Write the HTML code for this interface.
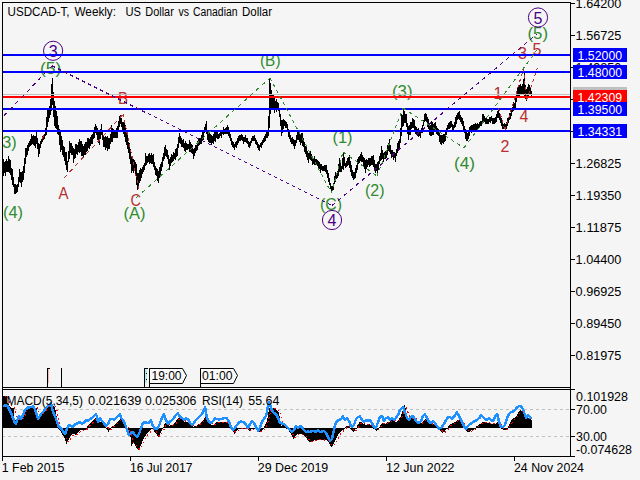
<!DOCTYPE html>
<html><head><meta charset="utf-8"><title>USDCAD-T Weekly</title>
<style>html,body{margin:0;padding:0;background:#f5f5f5;overflow:hidden}svg{display:block}text{font-family:"Liberation Sans", sans-serif;white-space:pre}</style>
</head><body>
<svg width="640" height="480" viewBox="0 0 640 480">
<rect width="640" height="480" fill="#f5f5f5"/>
<defs><clipPath id="cm"><rect x="3" y="3" width="567" height="384"/></clipPath><clipPath id="ci"><rect x="3" y="390" width="567" height="66"/></clipPath></defs>
<g clip-path="url(#cm)">
<path d="M3.5 159V176M4.5 162V173M5.5 161V176M6.5 159V172M7.5 161V172M8.5 156V172M9.5 159V173M10.5 160V175M11.5 168V180M12.5 169V185M13.5 177V187M14.5 184V194M15.5 184V194M16.5 185V193M17.5 184V192M18.5 177V187M19.5 169V182M20.5 172V183M21.5 172V187M22.5 171V182M23.5 166V180M24.5 158V173M25.5 148V164M26.5 148V157M27.5 145V155M28.5 143V151M29.5 141V147M30.5 139V146M31.5 134V145M32.5 136V144M33.5 135V145M34.5 136V146M35.5 136V148M36.5 132V144M37.5 138V149M38.5 143V157M39.5 144V154M40.5 141V148M41.5 139V144M42.5 136V142M43.5 135V140M44.5 134V139M45.5 128V136M46.5 117V135M47.5 108V127M48.5 108V122M49.5 106V118M50.5 99V115M51.5 84V111M52.5 78V105M53.5 92V117M54.5 101V126M55.5 106V128M56.5 111V129M57.5 116V134M58.5 125V135M59.5 129V145M60.5 132V152M61.5 136V150M62.5 140V155M63.5 146V157M64.5 147V161M65.5 152V165M66.5 152V170M67.5 161V172M68.5 151V162M69.5 141V159M70.5 143V153M71.5 143V155M72.5 146V155M73.5 148V163M74.5 149V159M75.5 144V158M76.5 144V154M77.5 145V155M78.5 142V152M79.5 139V153M80.5 141V152M81.5 141V156M82.5 144V156M83.5 146V158M84.5 144V155M85.5 142V155M86.5 142V152M87.5 138V151M88.5 138V148M89.5 139V149M90.5 137V146M91.5 135V144M92.5 134V144M93.5 130V139M94.5 127V138M95.5 124V133M96.5 126V135M97.5 128V140M98.5 131V143M99.5 132V145M100.5 129V139M101.5 124V135M102.5 130V140M103.5 135V147M104.5 137V147M105.5 136V150M106.5 137V148M107.5 136V151M108.5 138V149M109.5 138V149M110.5 134V144M111.5 125V142M112.5 128V142M113.5 129V138M114.5 131V138M115.5 132V138M116.5 128V138M117.5 126V138M118.5 121V130M119.5 116V127M120.5 115V124M121.5 118V127M122.5 122V130M123.5 122V134M124.5 123V137M125.5 125V142M126.5 130V145M127.5 133V149M128.5 142V153M129.5 143V159M130.5 149V164M131.5 156V173M132.5 158V171M133.5 159V173M134.5 160V171M135.5 162V175M136.5 164V185M137.5 173V190M138.5 173V186M139.5 170V183M140.5 168V181M141.5 169V178M142.5 167V174M143.5 165V172M144.5 163V170M145.5 153V166M146.5 156V165M147.5 156V163M148.5 154V162M149.5 153V164M150.5 155V163M151.5 153V164M152.5 155V164M153.5 154V167M154.5 162V170M155.5 166V175M156.5 168V176M157.5 169V181M158.5 171V183M159.5 167V178M160.5 164V175M161.5 162V171M162.5 157V167M163.5 153V161M164.5 147V159M165.5 145V156M166.5 149V157M167.5 150V159M168.5 155V164M169.5 159V170M170.5 157V166M171.5 154V163M172.5 155V162M173.5 152V161M174.5 153V159M175.5 149V160M176.5 148V157M177.5 144V156M178.5 137V148M179.5 133V143M180.5 136V144M181.5 138V147M182.5 140V147M183.5 139V148M184.5 143V151M185.5 141V152M186.5 143V150M187.5 144V150M188.5 144V149M189.5 140V152M190.5 142V152M191.5 144V153M192.5 145V154M193.5 149V159M194.5 148V156M195.5 145V153M196.5 145V151M197.5 141V150M198.5 139V146M199.5 138V145M200.5 138V144M201.5 135V144M202.5 132V141M203.5 132V140M204.5 127V133M205.5 124V131M206.5 121V134M207.5 130V140M208.5 133V142M209.5 133V143M210.5 134V143M211.5 135V145M212.5 136V143M213.5 134V144M214.5 132V141M215.5 130V142M216.5 131V138M217.5 132V139M218.5 134V139M219.5 133V138M220.5 132V136M221.5 132V138M222.5 130V134M223.5 127V135M224.5 129V134M225.5 128V134M226.5 127V134M227.5 125V134M228.5 127V136M229.5 131V138M230.5 134V141M231.5 138V145M232.5 141V147M233.5 142V148M234.5 144V150M235.5 142V147M236.5 141V148M237.5 138V145M238.5 136V143M239.5 135V141M240.5 135V141M241.5 134V140M242.5 135V141M243.5 137V144M244.5 137V142M245.5 135V142M246.5 138V143M247.5 138V144M248.5 141V147M249.5 142V148M250.5 141V146M251.5 138V143M252.5 136V141M253.5 136V141M254.5 135V141M255.5 138V144M256.5 140V145M257.5 142V148M258.5 144V150M259.5 145V151M260.5 143V147M261.5 142V148M262.5 140V145M263.5 138V143M264.5 136V142M265.5 134V141M266.5 132V138M267.5 131V138M268.5 116V136M269.5 78V128M270.5 83V114M271.5 90V110M272.5 94V109M273.5 95V110M274.5 98V113M275.5 101V110M276.5 99V112M277.5 102V110M278.5 103V111M279.5 109V117M280.5 114V126M281.5 120V136M282.5 120V133M283.5 119V129M284.5 120V126M285.5 121V128M286.5 122V128M287.5 124V131M288.5 129V137M289.5 132V139M290.5 135V142M291.5 138V144M292.5 137V144M293.5 139V146M294.5 140V149M295.5 140V146M296.5 135V143M297.5 132V140M298.5 131V140M299.5 134V142M300.5 134V145M301.5 133V143M302.5 133V146M303.5 138V147M304.5 142V152M305.5 146V154M306.5 147V157M307.5 151V160M308.5 153V163M309.5 152V159M310.5 151V160M311.5 154V161M312.5 156V165M313.5 158V164M314.5 156V165M315.5 159V165M316.5 159V165M317.5 160V166M318.5 161V170M319.5 162V169M320.5 164V173M321.5 164V170M322.5 166V171M323.5 166V171M324.5 165V171M325.5 165V172M326.5 165V174M327.5 170V178M328.5 173V182M329.5 178V185M330.5 183V189M331.5 186V192M332.5 186V191M333.5 183V190M334.5 176V184M335.5 172V182M336.5 173V179M337.5 171V178M338.5 164V176M339.5 158V172M340.5 162V172M341.5 166V172M342.5 158V169M343.5 153V170M344.5 157V166M345.5 163V168M346.5 161V167M347.5 158V166M348.5 157V165M349.5 155V168M350.5 161V172M351.5 165V176M352.5 170V178M353.5 172V180M354.5 172V179M355.5 168V178M356.5 165V173M357.5 159V170M358.5 157V164M359.5 156V163M360.5 154V161M361.5 152V162M362.5 155V162M363.5 157V167M364.5 158V169M365.5 160V173M366.5 159V169M367.5 160V167M368.5 158V165M369.5 158V167M370.5 158V166M371.5 156V165M372.5 156V165M373.5 155V167M374.5 160V169M375.5 164V173M376.5 164V171M377.5 162V175M378.5 161V170M379.5 156V164M380.5 153V161M381.5 146V160M382.5 150V159M383.5 153V162M384.5 152V159M385.5 151V159M386.5 150V158M387.5 145V155M388.5 143V151M389.5 139V152M390.5 145V154M391.5 150V158M392.5 150V157M393.5 152V160M394.5 152V158M395.5 153V162M396.5 149V156M397.5 143V153M398.5 141V151M399.5 139V149M400.5 128V143M401.5 114V136M402.5 115V127M403.5 109V126M404.5 111V123M405.5 114V123M406.5 114V127M407.5 123V134M408.5 126V140M409.5 125V135M410.5 122V135M411.5 122V129M412.5 118V128M413.5 119V128M414.5 120V130M415.5 126V134M416.5 127V135M417.5 129V136M418.5 128V137M419.5 130V136M420.5 131V138M421.5 128V133M422.5 125V133M423.5 120V126M424.5 114V122M425.5 113V121M426.5 114V122M427.5 117V127M428.5 119V129M429.5 123V135M430.5 125V136M431.5 121V136M432.5 122V135M433.5 124V135M434.5 123V131M435.5 122V132M436.5 126V134M437.5 128V135M438.5 129V136M439.5 132V142M440.5 135V144M441.5 135V145M442.5 135V143M443.5 134V144M444.5 134V142M445.5 131V141M446.5 128V135M447.5 125V130M448.5 123V129M449.5 122V129M450.5 121V128M451.5 121V127M452.5 124V130M453.5 125V132M454.5 122V128M455.5 117V127M456.5 115V124M457.5 113V120M458.5 112V119M459.5 111V120M460.5 115V122M461.5 117V124M462.5 118V126M463.5 121V130M464.5 126V133M465.5 129V139M466.5 132V141M467.5 133V141M468.5 132V139M469.5 127V136M470.5 126V132M471.5 125V133M472.5 125V131M473.5 124V131M474.5 124V130M475.5 123V130M476.5 124V130M477.5 123V129M478.5 124V129M479.5 122V128M480.5 121V126M481.5 121V126M482.5 114V122M483.5 114V122M484.5 116V122M485.5 118V124M486.5 118V124M487.5 119V124M488.5 119V124M489.5 117V122M490.5 117V123M491.5 116V121M492.5 118V124M493.5 118V124M494.5 118V124M495.5 117V123M496.5 114V122M497.5 111V118M498.5 110V118M499.5 113V120M500.5 117V123M501.5 118V126M502.5 122V129M503.5 124V129M504.5 123V129M505.5 124V129M506.5 122V129M507.5 118V126M508.5 117V123M509.5 113V120M510.5 113V119M511.5 110V116M512.5 107V112M513.5 102V111M514.5 103V110M515.5 98V108M516.5 92V102M517.5 88V98M518.5 86V96M519.5 85V96M520.5 84V95M521.5 86V94M522.5 84V95M523.5 79V95M524.5 73V96M525.5 85V99M526.5 89V101M527.5 87V97M528.5 84V96M529.5 85V95M530.5 88V94M531.5 91V96" stroke="#000" stroke-width="1" shape-rendering="crispEdges" fill="none"/>
<text x="-3.2" y="147.8" font-size="16" fill="#2e8b2e" textLength="19.8" lengthAdjust="spacingAndGlyphs">(3)</text>
<text x="3" y="217.5" font-size="16" fill="#2e8b2e" textLength="20" lengthAdjust="spacingAndGlyphs">(4)</text>
<text x="40" y="73.5" font-size="16" fill="#2e8b2e" textLength="21.2" lengthAdjust="spacingAndGlyphs">(5)</text>
<text x="58.5" y="199" font-size="16" fill="#b5302f" textLength="10" lengthAdjust="spacingAndGlyphs">A</text>
<text x="118" y="104" font-size="16" fill="#b5302f" textLength="10" lengthAdjust="spacingAndGlyphs">B</text>
<text x="130.5" y="205.5" font-size="16" fill="#b5302f" textLength="10.5" lengthAdjust="spacingAndGlyphs">C</text>
<text x="123.5" y="219" font-size="16" fill="#2e8b2e" textLength="22" lengthAdjust="spacingAndGlyphs">(A)</text>
<text x="260" y="65.5" font-size="16" fill="#2e8b2e" textLength="20.5" lengthAdjust="spacingAndGlyphs">(B)</text>
<text x="332.5" y="143" font-size="16" fill="#2e8b2e" textLength="20" lengthAdjust="spacingAndGlyphs">(1)</text>
<text x="320" y="210" font-size="16" fill="#2e8b2e" textLength="22" lengthAdjust="spacingAndGlyphs">(C)</text>
<text x="365" y="196" font-size="16" fill="#2e8b2e" textLength="19.5" lengthAdjust="spacingAndGlyphs">(2)</text>
<text x="392" y="97" font-size="16" fill="#2e8b2e" textLength="20.5" lengthAdjust="spacingAndGlyphs">(3)</text>
<text x="454" y="169" font-size="16" fill="#2e8b2e" textLength="21" lengthAdjust="spacingAndGlyphs">(4)</text>
<text x="493.5" y="99" font-size="16" fill="#b5302f">1</text>
<text x="500.5" y="152" font-size="16" fill="#b5302f">2</text>
<text x="518" y="59" font-size="16" fill="#b5302f">3</text>
<text x="519.5" y="121.5" font-size="16" fill="#b5302f">4</text>
<text x="532.5" y="55" font-size="16" fill="#b5302f">5</text>
<text x="527.5" y="39" font-size="16" fill="#2e8b2e" textLength="20.5" lengthAdjust="spacingAndGlyphs">(5)</text>
<circle cx="53.1" cy="50.8" r="9.6" fill="none" stroke="#4b0082" stroke-width="1"/><text x="53.1" y="56.8" font-size="16" fill="#4b0082" text-anchor="middle">3</text>
<circle cx="332" cy="220" r="9.6" fill="none" stroke="#4b0082" stroke-width="1"/><text x="332" y="226" font-size="16" fill="#4b0082" text-anchor="middle">4</text>
<circle cx="538" cy="17.5" r="9.6" fill="none" stroke="#4b0082" stroke-width="1"/><text x="538" y="23.5" font-size="16" fill="#4b0082" text-anchor="middle">5</text>
<g shape-rendering="crispEdges">
<rect x="3" y="94" width="567" height="1" fill="#c0c0c0"/>
<rect x="3" y="54" width="567" height="2" fill="#0000ff"/>
<rect x="3" y="71" width="567" height="2" fill="#0000ff"/>
<rect x="3" y="108" width="567" height="2" fill="#0000ff"/>
<rect x="3" y="130" width="567" height="2" fill="#0000ff"/>
<rect x="3" y="96" width="567" height="2" fill="#ff0000"/>
</g>
<line x1="-2" y1="122" x2="52" y2="65.8" stroke="#4b0082" stroke-width="1" stroke-dasharray="4.30 4.02" shape-rendering="crispEdges"/><line x1="52" y1="65.8" x2="332" y2="205.5" stroke="#4b0082" stroke-width="1" stroke-dasharray="3.46 3.24" shape-rendering="crispEdges"/><line x1="332" y1="205.5" x2="537" y2="34" stroke="#4b0082" stroke-width="1" stroke-dasharray="4.04 3.78" shape-rendering="crispEdges"/>
<line x1="64" y1="178" x2="123.2" y2="114.3" stroke="#b5302f" stroke-width="1" stroke-dasharray="4.23 3.96" shape-rendering="crispEdges"/><line x1="123.2" y1="114.3" x2="139" y2="190" stroke="#b5302f" stroke-width="1" stroke-dasharray="3.17 2.96" shape-rendering="crispEdges"/>
<line x1="136" y1="198" x2="270" y2="78" stroke="#2e8b2e" stroke-width="1" stroke-dasharray="4.16 3.89" shape-rendering="crispEdges"/><line x1="270" y1="78" x2="331.5" y2="193" stroke="#2e8b2e" stroke-width="1" stroke-dasharray="3.52 3.29" shape-rendering="crispEdges"/><line x1="331.5" y1="193" x2="343" y2="152" stroke="#2e8b2e" stroke-width="1" stroke-dasharray="3.22 3.01" shape-rendering="crispEdges"/><line x1="343" y1="152" x2="377" y2="176" stroke="#2e8b2e" stroke-width="1" stroke-dasharray="3.79 3.55" shape-rendering="crispEdges"/><line x1="377" y1="176" x2="403" y2="108" stroke="#2e8b2e" stroke-width="1" stroke-dasharray="3.32 3.10" shape-rendering="crispEdges"/><line x1="403" y1="108" x2="464" y2="148" stroke="#2e8b2e" stroke-width="1" stroke-dasharray="3.71 3.47" shape-rendering="crispEdges"/><line x1="464" y1="148" x2="537" y2="50" stroke="#2e8b2e" stroke-width="1" stroke-dasharray="3.87 3.62" shape-rendering="crispEdges"/>
<line x1="498.5" y1="108" x2="505" y2="130" stroke="#b5302f" stroke-width="1" stroke-dasharray="3.23 3.02" shape-rendering="crispEdges"/><line x1="505" y1="130" x2="523.5" y2="69" stroke="#b5302f" stroke-width="1" stroke-dasharray="3.24 3.03" shape-rendering="crispEdges"/><line x1="523.5" y1="69" x2="526.5" y2="100" stroke="#b5302f" stroke-width="1" stroke-dasharray="3.11 2.91" shape-rendering="crispEdges"/><line x1="526.5" y1="100" x2="537.5" y2="68" stroke="#b5302f" stroke-width="1" stroke-dasharray="3.28 3.07" shape-rendering="crispEdges"/>
<path d="M42.5 137V139M43.5 135V137" stroke="#ff0000" stroke-width="1" shape-rendering="crispEdges"/>
<text x="7.5" y="15.5" font-size="12" fill="#000" textLength="62" lengthAdjust="spacingAndGlyphs">USDCAD-T,</text>
<text x="74.5" y="15.5" font-size="12" fill="#000" textLength="41.5" lengthAdjust="spacingAndGlyphs">Weekly:</text>
<text x="125.5" y="15.5" font-size="12" fill="#000" textLength="15.5" lengthAdjust="spacingAndGlyphs">US</text>
<text x="145.3" y="15.5" font-size="12" fill="#000" textLength="28.5" lengthAdjust="spacingAndGlyphs">Dollar</text>
<text x="178.5" y="15.5" font-size="12" fill="#000" textLength="10.5" lengthAdjust="spacingAndGlyphs">vs</text>
<text x="193" y="15.5" font-size="12" fill="#000" textLength="44.5" lengthAdjust="spacingAndGlyphs">Canadian</text>
<text x="242" y="15.5" font-size="12" fill="#000" textLength="30" lengthAdjust="spacingAndGlyphs">Dollar</text>
<g shape-rendering="crispEdges">
<rect x="47" y="368" width="1" height="19" fill="#000"/><rect x="48" y="369" width="1" height="14" fill="#ffb0b8"/><rect x="47" y="368" width="3" height="1" fill="#000"/>
<rect x="61" y="368" width="1" height="19" fill="#000"/>
<rect x="144" y="368" width="1" height="19" fill="#000"/><rect x="144" y="368" width="4" height="1" fill="#000"/><rect x="145" y="369" width="2" height="14" fill="#aeeeee"/><rect x="146" y="373" width="1" height="1" fill="#000"/><rect x="146" y="379" width="1" height="1" fill="#000"/>
<rect x="149" y="368" width="1" height="19" fill="#000"/>
<rect x="200" y="368" width="1" height="19" fill="#000"/>
</g>
<path d="M149.5 368.5H182.5L186.5 375.5L182.5 383.5H149.5Z" fill="#fafafa" stroke="#000" stroke-width="1"/>
<path d="M200.5 368.5H233.5L237.5 375.5L233.5 383.5H200.5Z" fill="#fafafa" stroke="#000" stroke-width="1"/>
<text x="151.5" y="380.3" font-size="12" fill="#000" textLength="30" lengthAdjust="spacingAndGlyphs">19:00</text>
<text x="202" y="380.3" font-size="12" fill="#000" textLength="30.5" lengthAdjust="spacingAndGlyphs">01:00</text>
</g>
<g clip-path="url(#ci)">
<g shape-rendering="crispEdges">
<line x1="3" y1="409.5" x2="570" y2="409.5" stroke="#c0c0c0" stroke-width="1" stroke-dasharray="3 3" stroke-dashoffset="1"/>
<line x1="3" y1="436.5" x2="570" y2="436.5" stroke="#c0c0c0" stroke-width="1" stroke-dasharray="3 3" stroke-dashoffset="1"/>
<path d="M3.5 396V428M4.5 396V428M5.5 396V428M6.5 396V428M7.5 403V428M8.5 404V428M9.5 406V428M10.5 407V428M11.5 408V428M12.5 408V428M13.5 408V428M14.5 418V428M15.5 420V428M16.5 420V428M17.5 420V428M18.5 419V428M19.5 418V428M20.5 419V428M21.5 419V428M22.5 418V428M23.5 416V428M24.5 413V428M25.5 410V428M26.5 408V428M27.5 408V428M28.5 407V428M29.5 407V428M30.5 407V428M31.5 407V428M32.5 407V428M33.5 407V428M34.5 407V428M35.5 408V428M36.5 408V428M37.5 413V428M38.5 416V428M39.5 416V428M40.5 416V428M41.5 415V428M42.5 413V428M43.5 412V428M44.5 410V428M45.5 408V428M46.5 407V428M47.5 406V428M48.5 405V428M49.5 404V428M50.5 404V428M51.5 404V428M52.5 405V428M53.5 406V428M54.5 407V428M55.5 410V428M56.5 416V428M57.5 424V428M58.5 427.5V428.5M59.5 428V430M60.5 428V431M61.5 428V433M62.5 428V435M63.5 428V436M64.5 428V438M65.5 428V441M66.5 428V444M67.5 428V442M68.5 428V440M69.5 428V438M70.5 428V436M71.5 428V435M72.5 428V434M73.5 428V434M74.5 428V434M75.5 428V435M76.5 428V434M77.5 428V433M78.5 428V432M79.5 428V431M80.5 428V430M81.5 428V430M82.5 428V430M83.5 428V430M84.5 428V430M85.5 428V430M86.5 427.5V428.5M87.5 426V428M88.5 425V428M89.5 424V428M90.5 423V428M91.5 422V428M92.5 421V428M93.5 420V428M94.5 419V428M95.5 418V428M96.5 419V428M97.5 420V428M98.5 421V428M99.5 422V428M100.5 422V428M101.5 422V428M102.5 423V428M103.5 424V428M104.5 425V428M105.5 426V428M106.5 427.5V428.5M107.5 428V430M108.5 428V432M109.5 428V430M110.5 427.5V428.5M111.5 427V428M112.5 426V428M113.5 426V428M114.5 425V428M115.5 424V428M116.5 423V428M117.5 422V428M118.5 421V428M119.5 420V428M120.5 418V428M121.5 420V428M122.5 421V428M123.5 422V428M124.5 424V428M125.5 426V428M126.5 427.5V428.5M127.5 428V430M128.5 428V431M129.5 428V434M130.5 428V437M131.5 428V446M132.5 428V444M133.5 428V443M134.5 428V444M135.5 428V446M136.5 428V448M137.5 428V449M138.5 428V450M139.5 428V448M140.5 428V446M141.5 428V444M142.5 428V441M143.5 428V439M144.5 428V437M145.5 428V436M146.5 428V434M147.5 428V433M148.5 428V432M149.5 428V431M150.5 428V430M151.5 427.5V428.5M152.5 428V429M153.5 428V430M154.5 428V432M155.5 428V433M156.5 428V434M157.5 428V436M158.5 428V437M159.5 428V435M160.5 428V433M161.5 428V431M162.5 428V429M163.5 427V428M164.5 424V428M165.5 423V428M166.5 424V428M167.5 424V428M168.5 425V428M169.5 426V428M170.5 425V428M171.5 425V428M172.5 425V428M173.5 424V428M174.5 423V428M175.5 422V428M176.5 420V428M177.5 419V428M178.5 418V428M179.5 418V428M180.5 418V428M181.5 419V428M182.5 420V428M183.5 421V428M184.5 422V428M185.5 422V428M186.5 422V428M187.5 422V428M188.5 423V428M189.5 424V428M190.5 425V428M191.5 426V428M192.5 426V428M193.5 427V428M194.5 426V428M195.5 426V428M196.5 426V428M197.5 425V428M198.5 424V428M199.5 424V428M200.5 423V428M201.5 422V428M202.5 421V428M203.5 420V428M204.5 418V428M205.5 416V428M206.5 418V428M207.5 420V428M208.5 422V428M209.5 423V428M210.5 424V428M211.5 425V428M212.5 425V428M213.5 425V428M214.5 424V428M215.5 423V428M216.5 422V428M217.5 422V428M218.5 422V428M219.5 422V428M220.5 422V428M221.5 422V428M222.5 422V428M223.5 422V428M224.5 422V428M225.5 422V428M226.5 422V428M227.5 423V428M228.5 424V428M229.5 425V428M230.5 427.5V428.5M231.5 428V429M232.5 428V430M233.5 428V432M234.5 428V434M235.5 428V432M236.5 428V431M237.5 428V430M238.5 428V429M239.5 427.5V428.5M240.5 427.5V428.5M241.5 427.5V428.5M242.5 427.5V428.5M243.5 427.5V428.5M244.5 427.5V428.5M245.5 427.5V428.5M246.5 428V429M247.5 428V429M248.5 428V430M249.5 428V431M250.5 428V430M251.5 428V429M252.5 428V429M253.5 427.5V428.5M254.5 427.5V428.5M255.5 427.5V428.5M256.5 428V429M257.5 428V430M258.5 428V431M259.5 428V432M260.5 428V432M261.5 428V431M262.5 428V430M263.5 427.5V428.5M264.5 426V428M265.5 424V428M266.5 422V428M267.5 418V428M268.5 412V428M269.5 408V428M270.5 408V428M271.5 408V428M272.5 409V428M273.5 408V428M274.5 408V428M275.5 408V428M276.5 410V428M277.5 411V428M278.5 412V428M279.5 416V428M280.5 424V428M281.5 426V428M282.5 425V428M283.5 425V428M284.5 426V428M285.5 426V428M286.5 427.5V428.5M287.5 427.5V428.5M288.5 428V430M289.5 428V432M290.5 428V433M291.5 428V435M292.5 428V437M293.5 428V439M294.5 428V438M295.5 428V436M296.5 428V435M297.5 428V434M298.5 428V434M299.5 428V434M300.5 428V434M301.5 428V434M302.5 428V435M303.5 428V435M304.5 428V436M305.5 428V437M306.5 428V438M307.5 428V440M308.5 428V441M309.5 428V442M310.5 428V442M311.5 428V442M312.5 428V442M313.5 428V441M314.5 428V440M315.5 428V440M316.5 428V440M317.5 428V440M318.5 428V440M319.5 428V440M320.5 428V440M321.5 428V440M322.5 428V440M323.5 428V440M324.5 428V440M325.5 428V440M326.5 428V440M327.5 428V441M328.5 428V442M329.5 428V444M330.5 428V446M331.5 428V447M332.5 428V446M333.5 428V444M334.5 428V442M335.5 428V440M336.5 428V438M337.5 428V436M338.5 428V434M339.5 428V433M340.5 428V432M341.5 428V431M342.5 428V430M343.5 428V430M344.5 427.5V428.5M345.5 427V428M346.5 426V428M347.5 426V428M348.5 426V428M349.5 427V428M350.5 427.5V428.5M351.5 428V430M352.5 428V431M353.5 428V432M354.5 428V431M355.5 428V429M356.5 427.5V428.5M357.5 425V428M358.5 424V428M359.5 422V428M360.5 422V428M361.5 422V428M362.5 423V428M363.5 424V428M364.5 424V428M365.5 425V428M366.5 425V428M367.5 425V428M368.5 425V428M369.5 424V428M370.5 425V428M371.5 426V428M372.5 427V428M373.5 427.5V428.5M374.5 428V429M375.5 428V430M376.5 428V431M377.5 428V430M378.5 427.5V428.5M379.5 427V428M380.5 425V428M381.5 424V428M382.5 423V428M383.5 424V428M384.5 424V428M385.5 424V428M386.5 423V428M387.5 422V428M388.5 422V428M389.5 422V428M390.5 421V428M391.5 420V428M392.5 420V428M393.5 420V428M394.5 421V428M395.5 422V428M396.5 422V428M397.5 421V428M398.5 420V428M399.5 418V428M400.5 417V428M401.5 414V428M402.5 411V428M403.5 406V428M404.5 405V428M405.5 408V428M406.5 414V428M407.5 416V428M408.5 418V428M409.5 418V428M410.5 419V428M411.5 418V428M412.5 418V428M413.5 416V428M414.5 418V428M415.5 419V428M416.5 420V428M417.5 422V428M418.5 423V428M419.5 424V428M420.5 423V428M421.5 423V428M422.5 422V428M423.5 421V428M424.5 420V428M425.5 419V428M426.5 420V428M427.5 421V428M428.5 422V428M429.5 424V428M430.5 424V428M431.5 424V428M432.5 424V428M433.5 424V428M434.5 424V428M435.5 425V428M436.5 426V428M437.5 427V428M438.5 427.5V428.5M439.5 428V430M440.5 428V431M441.5 428V432M442.5 428V433M443.5 428V432M444.5 428V432M445.5 428V430M446.5 428V429M447.5 427.5V428.5M448.5 426V428M449.5 425V428M450.5 424V428M451.5 424V428M452.5 423V428M453.5 423V428M454.5 422V428M455.5 422V428M456.5 421V428M457.5 420V428M458.5 420V428M459.5 419V428M460.5 420V428M461.5 422V428M462.5 424V428M463.5 425V428M464.5 427.5V428.5M465.5 428V430M466.5 428V431M467.5 428V432M468.5 428V432M469.5 428V432M470.5 428V431M471.5 428V430M472.5 428V430M473.5 428V430M474.5 428V429M475.5 427.5V428.5M476.5 426V428M477.5 426V428M478.5 425V428M479.5 424V428M480.5 424V428M481.5 423V428M482.5 422V428M483.5 422V428M484.5 422V428M485.5 423V428M486.5 423V428M487.5 423V428M488.5 423V428M489.5 423V428M490.5 424V428M491.5 424V428M492.5 424V428M493.5 424V428M494.5 424V428M495.5 424V428M496.5 423V428M497.5 422V428M498.5 422V428M499.5 424V428M500.5 426V428M501.5 427.5V428.5M502.5 428V429M503.5 428V430M504.5 428V430M505.5 428V430M506.5 428V429M507.5 427.5V428.5M508.5 426V428M509.5 424V428M510.5 422V428M511.5 420V428M512.5 419V428M513.5 418V428M514.5 418V428M515.5 417V428M516.5 416V428M517.5 414V428M518.5 412V428M519.5 411V428M520.5 410V428M521.5 411V428M522.5 412V428M523.5 413V428M524.5 414V428M525.5 416V428M526.5 417V428M527.5 418V428M528.5 418V428M529.5 418V428M530.5 419V428M531.5 420V428" stroke="#000" stroke-width="1" fill="none"/>
</g>
<polyline points="4.5,396.0 5.5,396.0 6.5,396.0 7.5,396.0 8.5,399.9 9.5,402.4 10.5,404.4 11.5,405.7 12.5,406.7 13.5,407.4 14.5,408.0 15.5,413.5 16.5,416.8 17.5,418.4 18.5,419.3 19.5,419.3 20.5,418.8 21.5,418.8 22.5,418.9 23.5,418.1 24.5,417.0 25.5,414.8 26.5,412.2 27.5,409.9 28.5,408.6 29.5,407.9 30.5,407.5 31.5,407.2 32.5,407.1 33.5,407.0 34.5,407.0 35.5,407.2 36.5,407.5 37.5,407.8 38.5,410.6 39.5,413.6 40.5,415.1 41.5,415.8 42.5,415.2 43.5,414.0 44.5,412.6 45.5,411.2 46.5,409.7 47.5,408.2 48.5,407.0 49.5,405.9 50.5,405.1 51.5,404.5 52.5,404.5 53.5,404.8 54.5,405.4 55.5,406.3 56.5,408.3 57.5,412.6 58.5,418.8 59.5,423.9 60.5,427.0 61.5,429.2 62.5,431.3 63.5,433.3 64.5,435.1 65.5,436.7 66.5,439.1 67.5,441.8 68.5,441.9 69.5,440.9 70.5,439.3 71.5,437.5 72.5,436.1 73.5,435.0 74.5,434.4 75.5,434.2 76.5,434.6 77.5,434.3 78.5,433.6 79.5,432.7 80.5,431.8 81.5,430.9 82.5,430.1 83.5,430.1 84.5,430.3 85.5,430.3 86.5,430.1 87.5,429.0 88.5,427.6 89.5,426.2 90.5,425.0 91.5,423.9 92.5,422.9 93.5,421.8 94.5,420.8 95.5,419.8 96.5,418.8 97.5,418.9 98.5,419.5 99.5,420.3 100.5,421.2 101.5,421.5 102.5,421.5 103.5,422.2 104.5,423.2 105.5,424.2 106.5,425.2 107.5,426.7 108.5,428.4 109.5,430.1 110.5,429.9 111.5,428.9 112.5,427.8 113.5,426.8 114.5,426.1 115.5,425.5 116.5,424.7 117.5,423.8 118.5,422.8 119.5,421.8 120.5,420.7 121.5,419.5 122.5,419.6 123.5,420.4 124.5,421.5 125.5,422.9 126.5,424.6 127.5,426.5 128.5,428.1 129.5,429.7 130.5,432.1 131.5,434.8 132.5,441.0 133.5,442.9 134.5,443.0 135.5,443.8 136.5,445.0 137.5,446.4 138.5,447.8 139.5,449.0 140.5,448.5 141.5,447.1 142.5,445.1 143.5,442.9 144.5,440.7 145.5,438.7 146.5,436.9 147.5,435.3 148.5,434.0 149.5,432.9 150.5,431.9 151.5,430.8 152.5,429.6 153.5,429.4 154.5,429.7 155.5,430.7 156.5,432.0 157.5,433.4 158.5,434.8 159.5,436.0 160.5,435.5 161.5,434.1 162.5,432.4 163.5,430.5 164.5,428.6 165.5,426.1 166.5,424.4 167.5,423.9 168.5,424.0 169.5,424.4 170.5,425.0 171.5,425.1 172.5,425.1 173.5,424.9 174.5,424.7 175.5,423.9 176.5,422.9 177.5,421.6 178.5,420.2 179.5,419.1 180.5,418.2 181.5,418.2 182.5,418.7 183.5,419.4 184.5,420.3 185.5,421.0 186.5,421.5 187.5,421.8 188.5,421.9 189.5,422.5 190.5,423.3 191.5,424.2 192.5,425.2 193.5,425.9 194.5,426.5 195.5,426.5 196.5,426.2 197.5,425.8 198.5,425.4 199.5,424.8 200.5,424.1 201.5,423.3 202.5,422.6 203.5,421.7 204.5,420.8 205.5,419.4 206.5,417.8 207.5,418.0 208.5,419.1 209.5,420.4 210.5,421.8 211.5,423.0 212.5,424.1 213.5,424.6 214.5,424.8 215.5,424.4 216.5,423.6 217.5,423.0 218.5,422.5 219.5,422.3 220.5,422.4 221.5,422.3 222.5,422.1 223.5,422.1 224.5,422.0 225.5,422.0 226.5,422.0 227.5,422.3 228.5,422.7 229.5,423.4 230.5,424.3 231.5,426.3 232.5,427.8 233.5,429.0 234.5,430.5 235.5,432.2 236.5,432.2 237.5,431.5 238.5,430.7 239.5,429.8 240.5,428.8 241.5,428.5 242.5,428.5 243.5,428.5 244.5,428.5 245.5,428.5 246.5,428.5 247.5,428.6 248.5,428.8 249.5,429.5 250.5,430.3 251.5,430.1 252.5,429.5 253.5,429.1 254.5,428.8 255.5,428.6 256.5,428.6 257.5,428.8 258.5,429.5 259.5,430.3 260.5,431.1 261.5,431.9 262.5,431.5 263.5,430.7 264.5,429.5 265.5,427.6 266.5,425.6 267.5,423.6 268.5,420.5 269.5,415.8 270.5,411.5 271.5,409.6 272.5,409.0 273.5,409.0 274.5,408.7 275.5,408.3 276.5,408.1 277.5,409.2 278.5,410.3 279.5,411.5 280.5,414.0 281.5,419.5 282.5,422.8 283.5,424.1 284.5,424.6 285.5,425.2 286.5,425.9 287.5,426.8 288.5,427.7 289.5,429.0 290.5,430.4 291.5,431.8 292.5,433.6 293.5,435.5 294.5,437.4 295.5,437.5 296.5,436.7 297.5,435.7 298.5,434.8 299.5,434.4 300.5,434.2 301.5,434.2 302.5,434.4 303.5,434.6 304.5,434.8 305.5,435.5 306.5,436.3 307.5,437.5 308.5,438.9 309.5,439.9 310.5,440.8 311.5,441.3 312.5,441.7 313.5,441.6 314.5,441.3 315.5,440.8 316.5,440.4 317.5,440.2 318.5,440.1 319.5,439.9 320.5,439.7 321.5,439.7 322.5,439.9 323.5,439.9 324.5,440.0 325.5,440.0 326.5,440.0 327.5,440.3 328.5,440.7 329.5,441.7 330.5,443.0 331.5,444.4 332.5,445.8 333.5,445.6 334.5,444.7 335.5,443.2 336.5,441.5 337.5,439.6 338.5,437.6 339.5,435.9 340.5,434.3 341.5,433.0 342.5,431.9 343.5,431.0 344.5,430.2 345.5,429.0 346.5,427.9 347.5,426.9 348.5,426.5 349.5,426.5 350.5,426.9 351.5,427.5 352.5,428.6 353.5,429.9 354.5,431.3 355.5,431.0 356.5,429.9 357.5,428.9 358.5,426.7 359.5,425.1 360.5,423.7 361.5,422.9 362.5,422.4 363.5,422.7 364.5,423.4 365.5,424.0 366.5,424.6 367.5,424.8 368.5,424.9 369.5,424.8 370.5,424.6 371.5,425.0 372.5,425.5 373.5,426.3 374.5,427.3 375.5,428.2 376.5,429.2 377.5,430.2 378.5,429.9 379.5,429.2 380.5,427.8 381.5,426.3 382.5,425.0 383.5,423.9 384.5,423.7 385.5,423.9 386.5,423.7 387.5,423.3 388.5,422.9 389.5,422.4 390.5,421.9 391.5,421.4 392.5,420.9 393.5,420.4 394.5,420.5 395.5,420.8 396.5,421.2 397.5,421.6 398.5,421.3 399.5,420.6 400.5,419.4 401.5,418.1 402.5,415.8 403.5,413.2 404.5,409.2 405.5,406.9 406.5,407.5 407.5,411.1 408.5,413.8 409.5,416.1 410.5,417.4 411.5,418.3 412.5,418.3 413.5,417.8 414.5,417.1 415.5,417.5 416.5,418.3 417.5,419.5 418.5,420.9 419.5,421.9 420.5,422.8 421.5,423.0 422.5,423.0 423.5,422.5 424.5,421.7 425.5,420.7 426.5,419.8 427.5,419.9 428.5,420.5 429.5,421.5 430.5,422.6 431.5,423.4 432.5,424.0 433.5,424.1 434.5,424.1 435.5,424.3 436.5,424.7 437.5,425.4 438.5,426.3 439.5,427.5 440.5,428.7 441.5,430.0 442.5,431.1 443.5,432.1 444.5,432.3 445.5,432.2 446.5,431.2 447.5,430.0 448.5,428.9 449.5,427.6 450.5,426.2 451.5,425.1 452.5,424.2 453.5,423.7 454.5,423.3 455.5,422.9 456.5,422.4 457.5,421.6 458.5,420.7 459.5,420.1 460.5,419.5 461.5,420.0 462.5,421.1 463.5,422.4 464.5,423.8 465.5,426.1 466.5,428.0 467.5,429.6 468.5,430.8 469.5,431.7 470.5,431.7 471.5,431.3 472.5,430.9 473.5,430.4 474.5,429.9 475.5,429.4 476.5,428.6 477.5,427.2 478.5,426.3 479.5,425.6 480.5,424.8 481.5,424.1 482.5,423.4 483.5,422.6 484.5,422.4 485.5,422.5 486.5,422.6 487.5,422.8 488.5,422.9 489.5,423.0 490.5,423.1 491.5,423.3 492.5,423.6 493.5,423.8 494.5,423.9 495.5,424.0 496.5,423.7 497.5,423.3 498.5,422.7 499.5,422.1 500.5,423.0 501.5,424.6 502.5,426.8 503.5,428.0 504.5,428.8 505.5,429.2 506.5,429.4 507.5,429.2 508.5,428.8 509.5,427.3 510.5,425.5 511.5,423.6 512.5,421.9 513.5,420.3 514.5,419.3 515.5,418.6 516.5,417.7 517.5,416.8 518.5,415.2 519.5,413.7 520.5,412.2 521.5,411.0 522.5,411.0 523.5,411.6 524.5,412.3 525.5,413.3 526.5,414.5 527.5,415.9 528.5,416.8 529.5,417.4 530.5,418.0 531.5,418.6" fill="none" stroke="#ff0000" stroke-width="1" stroke-dasharray="1.6 2.6" shape-rendering="crispEdges"/>
<polyline points="3,406 5,405.5 7,405 9,409 11,413 13,418 15,423 16,424 18,418 19,416 21,419 23,415 25,410 28,407.5 31,407 33,406.5 35,409 37,416 38,419 40,416 42,413 44,411 46,408 48,406 50,404 51,403 52,408 53,412 55,416 57,422 59,427 61,428 63,431 65,434 67,429 68,426 70,425 72,427 74,426 75,424.4 78,423 80,422 82,424 84,422.5 86,420 88,421 90,419 92,418 94,416 96,414.5 97,416 98,422 99,420 100,418 102,421 104,423 106,426 108,424 110,419.5 112,419 114,419.5 116,418 118,416 120,414.5 121,418 123,420 125,424 127,430 129,435 131,433 133,432 135,435 137,437 139,434 141,428 143,423 145,422 147,423 149,422.5 151,420.5 153,426 155,428.5 157,429 159,426 161,420 163,416 164,414.5 166,420 168,424 170,421.5 172,420 174,418 176,415 178,413.5 180,417 182,418 184,419.5 186,418.5 188,419 190,423 192,425 194,423 196,420 198,418 200,416 202,414 204,410 205,407 206,412 207,418 209,422 211,423 213,421 215,418.5 217,419 219,419.5 221,419 223,418.5 225,418 227,418.5 229,422 231,427 233,430 235,428 237,425 239,422.5 241,421.5 243,422 245,423 247,426 248,428 250,424 252,421.5 254,423 256,427 258,430.5 260,428 262,421.5 264,419 266,416 267,412 268,406 269,402 270,405 272,410 274,413 276,414 278,418 280,423 282,423.5 284,424 286,426 288,428 290,430 292,432 294,430 296,426 298,427.5 300,426 302,427 304,430 306,432 308,431.5 310,432 312,431 314,431 316,432 318,430.5 320,432 322,431.5 324,431 326,433 328,437 330,440.5 332,439 334,430 335,425 337,421 339,420 341,419 343,416.5 345,420 347,418.5 349,421 351,426 352,427 354,425 356,419 358,417 360,416.5 362,420 364,422 366,420 368,421 370,420 372,423 374,427 376,428 378,422 380,417 382,416 384,421 386,418 388,417.5 390,420 392,418.5 394,420 396,418 398,415 400,410 402,408 403,407 405,412 407,418 409,420 411,417 413,416 415,419 417,422 419,423 421,421 423,416 425,414.5 427,418 429,422 431,423 433,421.5 435,423 437,426 439,428.5 441,428 442,427 444,424 446,420 448,417.5 450,417 452,418.5 454,416.5 456,414 457,412.5 459,416 461,420 463,424 465,428 466,429 468,426 470,424 472,423 474,421.5 476,420.5 478,419 480,417.5 481,415 483,417 485,419 487,420 489,418 491,420 493,421 495,417 497,414 498,416 499,422 501,427 503,427 505,425 507,418 509,414 511,412 513,411.5 515,410 517,407.5 519,406 521,406.5 523,409 525,415 526,418 528,415.5 530,417 531,419" fill="none" stroke="#1e90ff" stroke-width="2.5" stroke-linejoin="round" shape-rendering="crispEdges"/>
<text x="6.5" y="404.5" font-size="12" fill="#000" textLength="76.5" lengthAdjust="spacingAndGlyphs">MACD(5,34,5)</text>
<text x="88" y="404.5" font-size="12" fill="#000" textLength="53.5" lengthAdjust="spacingAndGlyphs">0.021639</text>
<text x="145" y="404.5" font-size="12" fill="#000" textLength="51.5" lengthAdjust="spacingAndGlyphs">0.025306</text>
<text x="202" y="404.5" font-size="12" fill="#000" textLength="41" lengthAdjust="spacingAndGlyphs">RSI(14)</text>
<text x="248.3" y="404.5" font-size="12" fill="#000" textLength="31" lengthAdjust="spacingAndGlyphs">55.64</text>
</g>
<g shape-rendering="crispEdges" fill="#000">
<rect x="2" y="2" width="569" height="1"/>
<rect x="2" y="2" width="1" height="455"/>
<rect x="570" y="2" width="1" height="455"/>
<rect x="2" y="387" width="569" height="1"/>
<rect x="3" y="388" width="567" height="1" fill="#f5f5f5"/>
<rect x="2" y="389" width="569" height="1"/>
<rect x="2" y="456" width="569" height="1"/>
<rect x="571" y="3" width="4" height="1"/>
<rect x="571" y="35" width="4" height="1"/>
<rect x="571" y="67" width="4" height="1"/>
<rect x="571" y="99" width="4" height="1"/>
<rect x="571" y="131" width="4" height="1"/>
<rect x="571" y="163" width="4" height="1"/>
<rect x="571" y="195" width="4" height="1"/>
<rect x="571" y="227" width="4" height="1"/>
<rect x="571" y="259" width="4" height="1"/>
<rect x="571" y="291" width="4" height="1"/>
<rect x="571" y="323" width="4" height="1"/>
<rect x="571" y="355" width="4" height="1"/>
<rect x="571" y="389" width="4" height="1"/>
<rect x="571" y="409" width="4" height="1"/>
<rect x="571" y="436" width="4" height="1"/>
<rect x="571" y="456" width="4" height="1"/>
<rect x="2" y="457" width="1" height="4"/>
<rect x="130" y="457" width="1" height="4"/>
<rect x="258" y="457" width="1" height="4"/>
<rect x="386" y="457" width="1" height="4"/>
<rect x="514" y="457" width="1" height="4"/>
</g>
<text x="575.6" y="7.5" font-size="12" fill="#000" textLength="45.8" lengthAdjust="spacingAndGlyphs">1.64200</text>
<text x="575.6" y="39.5" font-size="12" fill="#000" textLength="45.8" lengthAdjust="spacingAndGlyphs">1.56725</text>
<text x="575.6" y="71.5" font-size="12" fill="#000" textLength="45.8" lengthAdjust="spacingAndGlyphs">1.49250</text>
<text x="575.6" y="103.5" font-size="12" fill="#000" textLength="45.8" lengthAdjust="spacingAndGlyphs">1.41775</text>
<text x="575.6" y="135.5" font-size="12" fill="#000" textLength="45.8" lengthAdjust="spacingAndGlyphs">1.34300</text>
<text x="575.6" y="167.5" font-size="12" fill="#000" textLength="45.8" lengthAdjust="spacingAndGlyphs">1.26825</text>
<text x="575.6" y="199.5" font-size="12" fill="#000" textLength="45.8" lengthAdjust="spacingAndGlyphs">1.19350</text>
<text x="575.6" y="231.5" font-size="12" fill="#000" textLength="45.8" lengthAdjust="spacingAndGlyphs">1.11875</text>
<text x="575.6" y="263.5" font-size="12" fill="#000" textLength="45.8" lengthAdjust="spacingAndGlyphs">1.04400</text>
<text x="575.6" y="295.5" font-size="12" fill="#000" textLength="45.8" lengthAdjust="spacingAndGlyphs">0.96925</text>
<text x="575.6" y="327.5" font-size="12" fill="#000" textLength="45.8" lengthAdjust="spacingAndGlyphs">0.89450</text>
<text x="575.6" y="359.5" font-size="12" fill="#000" textLength="45.8" lengthAdjust="spacingAndGlyphs">0.81975</text>
<g shape-rendering="crispEdges">
<rect x="573" y="48" width="54" height="14" fill="#0000ff"/>
<rect x="573" y="65" width="54" height="14" fill="#0000ff"/>
<rect x="573" y="87" width="54" height="14" fill="#c0c0c0"/>
<rect x="573" y="90" width="54" height="14" fill="#ff0000"/>
<rect x="573" y="102" width="54" height="14" fill="#0000ff"/>
<rect x="573" y="124" width="54" height="14" fill="#0000ff"/>
</g>
<text x="577.6" y="59.6" font-size="12" fill="#fff" textLength="44.5" lengthAdjust="spacingAndGlyphs">1.52000</text>
<text x="577.6" y="76.6" font-size="12" fill="#fff" textLength="44.5" lengthAdjust="spacingAndGlyphs">1.48000</text>
<text x="577.6" y="101.6" font-size="12" fill="#fff" textLength="44.5" lengthAdjust="spacingAndGlyphs">1.42309</text>
<rect x="573" y="102" width="54" height="14" fill="#0000ff" shape-rendering="crispEdges"/>
<text x="577.6" y="113.6" font-size="12" fill="#fff" textLength="44.5" lengthAdjust="spacingAndGlyphs">1.39500</text>
<text x="577.6" y="135.6" font-size="12" fill="#fff" textLength="44.5" lengthAdjust="spacingAndGlyphs">1.34331</text>
<text x="576" y="400.8" font-size="12" fill="#000" textLength="52" lengthAdjust="spacingAndGlyphs">0.101928</text>
<text x="576" y="413.7" font-size="12" fill="#000" textLength="31" lengthAdjust="spacingAndGlyphs">70.00</text>
<text x="576" y="440.7" font-size="12" fill="#000" textLength="31" lengthAdjust="spacingAndGlyphs">30.00</text>
<text x="576" y="454" font-size="12" fill="#000" textLength="56" lengthAdjust="spacingAndGlyphs">-0.074628</text>
<text x="1.8" y="471.5" font-size="12" fill="#000" textLength="62.5" lengthAdjust="spacingAndGlyphs">1 Feb 2015</text>
<text x="130" y="471.5" font-size="12" fill="#000" textLength="62.5" lengthAdjust="spacingAndGlyphs">16 Jul 2017</text>
<text x="257.8" y="471.5" font-size="12" fill="#000" textLength="70.5" lengthAdjust="spacingAndGlyphs">29 Dec 2019</text>
<text x="386" y="471.5" font-size="12" fill="#000" textLength="68.5" lengthAdjust="spacingAndGlyphs">12 Jun 2022</text>
<text x="514" y="471.5" font-size="12" fill="#000" textLength="70" lengthAdjust="spacingAndGlyphs">24 Nov 2024</text>
</svg></body></html>
